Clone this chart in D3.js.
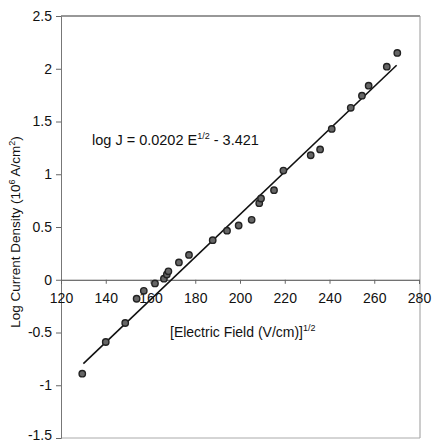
<!DOCTYPE html>
<html>
<head>
<meta charset="utf-8">
<script src="https://cdn.jsdelivr.net/npm/d3@7"></script>
<style>
  body { margin: 0; background: #fff; }
  svg text { font-family: "Liberation Sans", Arial, sans-serif; fill: #111; }
</style>
</head>
<body>
<svg id="chart" width="433" height="443"></svg>
<script>
// Square root of electric field, (V/cm)^1/2
const fieldSqrt = [129.5, 140.0, 148.7, 153.8, 157.0, 162.0, 166.0, 167.3, 168.0,
  172.7, 177.2, 187.8, 194.2, 199.4, 205.2, 208.6, 209.4, 215.2, 219.4,
  231.6, 235.8, 241.0, 249.5, 254.5, 257.5, 265.6, 270.3];
// Log current density, log(10^6 A/cm^2)
const logJ = [-0.89, -0.59, -0.41, -0.18, -0.105, -0.035, 0.01, 0.05, 0.08,
  0.164, 0.235, 0.375, 0.465, 0.514, 0.568, 0.726, 0.77, 0.849, 1.035,
  1.18, 1.235, 1.43, 1.63, 1.745, 1.84, 2.02, 2.15];

// Linear fit: log J = slope * E^1/2 + intercept
const fitSlope = 0.0202;
const fitIntercept = -3.421;
const fitRange = [130, 270];

const xTicks = [120, 140, 160, 180, 200, 220, 240, 260, 280];
const yTicks = [-1.5, -1, -0.5, 0, 0.5, 1, 1.5, 2, 2.5];

const svg = d3.select("#chart");
const plotLeft = 61, plotTop = 16, plotRight = 420, plotBottom = 438;

const x = d3.scaleLinear().domain([120, 280]).range([plotLeft, plotRight - 1]);
const y = d3.scaleLinear().domain([-1.5, 2.5]).range([plotBottom, plotTop]);

// Plot frame
svg.append("line").attr("x1", plotLeft).attr("x2", plotRight).attr("y1", plotTop).attr("y2", plotTop)
  .attr("stroke", "#333").attr("stroke-width", 1.2);
svg.append("line").attr("x1", plotRight).attr("x2", plotRight).attr("y1", plotTop).attr("y2", plotBottom)
  .attr("stroke", "#999").attr("stroke-width", 1);
svg.append("line").attr("x1", plotLeft).attr("x2", plotRight).attr("y1", plotBottom).attr("y2", plotBottom)
  .attr("stroke", "#aaa").attr("stroke-width", 1);

// Y axis on the left edge
const yAxis = svg.append("g").attr("transform", `translate(${plotLeft},0)`)
  .call(d3.axisLeft(y).tickValues(yTicks).tickSize(5).tickPadding(4)
    .tickFormat(d => String(d)));
yAxis.select(".domain").attr("stroke", "#777");
yAxis.selectAll(".tick line").attr("stroke", "#666");
yAxis.selectAll("text").attr("font-size", 14).attr("fill", "#111");
// keep the lowest label inside the canvas
yAxis.selectAll(".tick").filter(d => d === -1.5).select("text").attr("dy", "0.1em");

// X axis crosses at log J = 0
const xAxis = svg.append("g").attr("transform", `translate(0,${y(0)})`)
  .call(d3.axisBottom(x).tickValues(xTicks).tickSize(4).tickPadding(9)
    .tickFormat(d3.format("d")));
xAxis.select(".domain").attr("stroke", "#444");
xAxis.selectAll(".tick line").attr("stroke", "#666");
xAxis.selectAll("text").attr("font-size", 14).attr("fill", "#111");

// Fit line
svg.append("line")
  .attr("x1", x(fitRange[0])).attr("y1", y(fitSlope * fitRange[0] + fitIntercept))
  .attr("x2", x(fitRange[1])).attr("y2", y(fitSlope * fitRange[1] + fitIntercept))
  .attr("stroke", "#111").attr("stroke-width", 1.6);

// Measured points
svg.append("g").selectAll("circle")
  .data(fieldSqrt.map((e, i) => [e, logJ[i]]))
  .join("circle")
  .attr("cx", d => x(d[0])).attr("cy", d => y(d[1])).attr("r", 3.2)
  .attr("fill", "#666").attr("stroke", "#222").attr("stroke-width", 1.4);

// Fit equation
const eq = svg.append("text").attr("x", 92).attr("y", 145).attr("font-size", 14.5);
eq.append("tspan").text("log J = 0.0202 E");
eq.append("tspan").attr("dy", -6).attr("font-size", 9).text("1/2");
eq.append("tspan").attr("dy", 6).text(" - 3.421");

// X axis title
const xt = svg.append("text").attr("x", 170).attr("y", 337).attr("font-size", 14);
xt.append("tspan").text("[Electric Field (V/cm)]");
xt.append("tspan").attr("dy", -6).attr("font-size", 9).text("1/2");

// Y axis title
const yt = svg.append("text")
  .attr("transform", "translate(20,232) rotate(-90)")
  .attr("text-anchor", "middle").attr("font-size", 13.5);
yt.append("tspan").text("Log Current Density (10");
yt.append("tspan").attr("dy", -5).attr("font-size", 9).text("6");
yt.append("tspan").attr("dy", 5).text(" A/cm");
yt.append("tspan").attr("dy", -5).attr("font-size", 9).text("2");
yt.append("tspan").attr("dy", 5).text(")");
</script>
</body>
</html>
